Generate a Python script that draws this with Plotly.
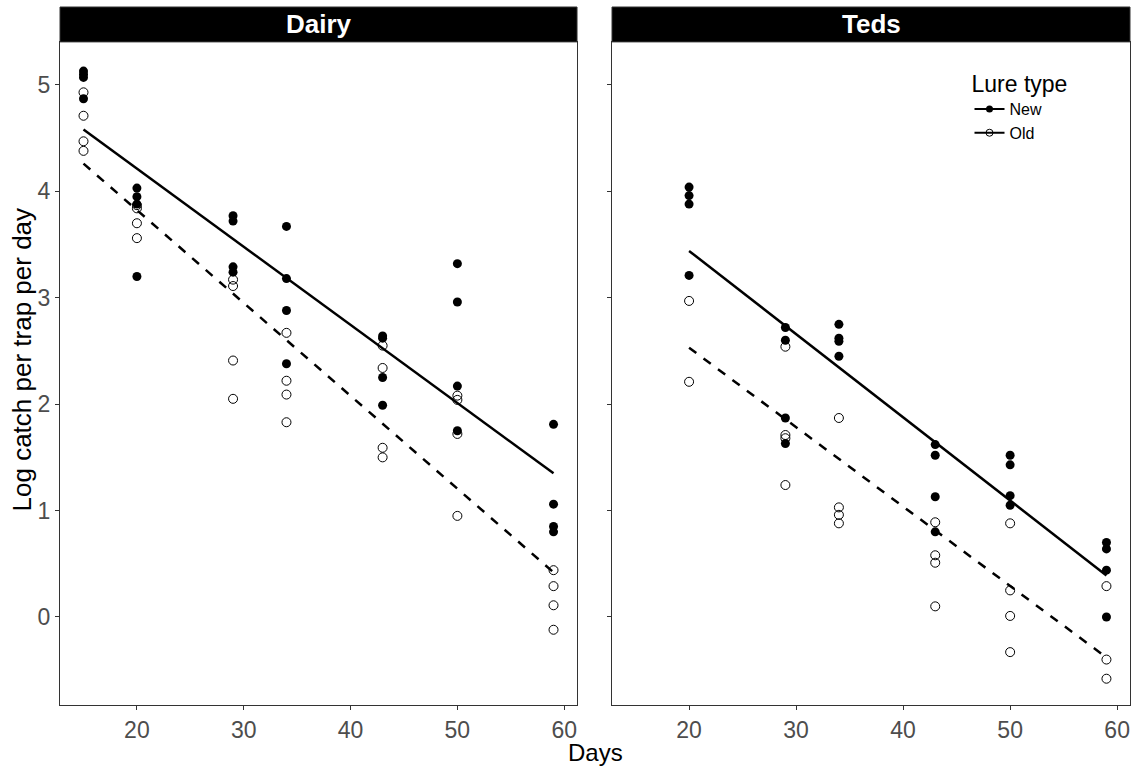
import plotly.graph_objects as go

# ---------------- data ----------------
days_dairy = [15, 20, 29, 34, 43, 50, 59]
dairy_new = [
    [5.13, 5.10, 5.07, 4.87],
    [4.03, 3.95, 3.88, 3.20],
    [3.77, 3.72, 3.29, 3.24],
    [3.67, 3.18, 2.88, 2.38],
    [2.64, 2.62, 2.25, 1.99],
    [3.32, 2.96, 2.17, 1.75],
    [1.81, 1.06, 0.85, 0.80],
]
dairy_old = [
    [4.93, 4.71, 4.47, 4.38],
    [3.87, 3.84, 3.70, 3.56],
    [3.17, 3.11, 2.41, 2.05],
    [2.67, 2.22, 2.09, 1.83],
    [2.55, 2.34, 1.59, 1.50],
    [2.08, 2.04, 1.72, 0.95],
    [0.44, 0.29, 0.11, -0.12],
]
days_teds = [20, 29, 34, 43, 50, 59]
teds_new = [
    [4.04, 3.96, 3.88, 3.21],
    [2.72, 2.60, 1.87, 1.63],
    [2.75, 2.62, 2.59, 2.45],
    [1.62, 1.52, 1.13, 0.80],
    [1.52, 1.43, 1.14, 1.05],
    [0.70, 0.64, 0.44, 0.00],
]
teds_old = [
    [2.97, 2.21],
    [2.54, 1.71, 1.68, 1.24],
    [1.87, 1.03, 0.96, 0.88],
    [0.89, 0.58, 0.51, 0.10],
    [0.88, 0.25, 0.01, -0.33],
    [0.29, -0.40, -0.58],
]
# fitted lines (endpoints)
fit_dairy_x = [15, 59]
fit_dairy_new = [4.58, 1.35]
fit_dairy_old = [4.26, 0.42]
fit_teds_x = [20, 59]
fit_teds_new = [3.44, 0.39]
fit_teds_old = [2.53, -0.38]

x_ticks = [20, 30, 40, 50, 60]
y_ticks = [0, 1, 2, 3, 4, 5]
panel_titles = ["Dairy", "Teds"]


def flatten(days, groups):
    xs, ys = [], []
    for d, g in zip(days, groups):
        for v in g:
            xs.append(d)
            ys.append(v)
    return xs, ys


FONT = "Arial, Liberation Sans, sans-serif"
fig = go.Figure()

panels = [
    ("x", "y", days_dairy, dairy_new, dairy_old, fit_dairy_x, fit_dairy_new, fit_dairy_old),
    ("x2", "y2", days_teds, teds_new, teds_old, fit_teds_x, fit_teds_new, fit_teds_old),
]
for xa, ya, days, new, old, fx, fn, fo in panels:
    xn, yn = flatten(days, new)
    xo, yo = flatten(days, old)
    fig.add_trace(go.Scatter(x=xn, y=yn, mode="markers", xaxis=xa, yaxis=ya,
                             marker=dict(symbol="circle", size=9, color="black"),
                             showlegend=False))
    fig.add_trace(go.Scatter(x=xo, y=yo, mode="markers", xaxis=xa, yaxis=ya,
                             marker=dict(symbol="circle-open", size=9, color="black",
                                         line=dict(width=1)),
                             showlegend=False))
    fig.add_trace(go.Scatter(x=fx, y=fn, mode="lines", xaxis=xa, yaxis=ya,
                             line=dict(color="black", width=2.5), showlegend=False))
    fig.add_trace(go.Scatter(x=fx, y=fo, mode="lines", xaxis=xa, yaxis=ya,
                             line=dict(color="black", width=2.5, dash="dash"),
                             showlegend=False))

# legend entries
fig.add_trace(go.Scatter(x=[None], y=[None], mode="lines+markers", name="New",
                         xaxis="x2", yaxis="y2",
                         line=dict(color="black", width=2),
                         marker=dict(symbol="circle", size=7, color="black")))
fig.add_trace(go.Scatter(x=[None], y=[None], mode="lines+markers", name="Old",
                         xaxis="x2", yaxis="y2",
                         line=dict(color="black", width=2),
                         marker=dict(symbol="circle-open", size=7, color="black")))

xr = [12.8, 61.2]
yr = [-0.827, 5.404]
ydom_top = 0.95
axis_common = dict(showgrid=False, zeroline=False, showline=True, mirror=True,
                   linecolor="#333333", linewidth=1, ticks="outside", ticklen=4,
                   tickcolor="#333333",
                   tickfont=dict(family=FONT, size=23, color="#4D4D4D"))

fig.update_layout(
    width=1134, height=770,
    margin=dict(l=60, r=4, t=7, b=65),
    plot_bgcolor="white", paper_bgcolor="white",
    font=dict(family=FONT, color="black"),
    xaxis=dict(domain=[0, 0.4832], range=xr, tickvals=x_ticks, **axis_common),
    xaxis2=dict(domain=[0.5159, 1], range=xr, tickvals=x_ticks, anchor="y2", **axis_common),
    yaxis=dict(domain=[0, ydom_top], range=yr, tickvals=y_ticks, **axis_common),
    yaxis2=dict(domain=[0, ydom_top], range=yr, tickvals=y_ticks, anchor="x2",
                showticklabels=False, **axis_common),
    legend=dict(x=0.850, y=0.921, xanchor="left", yanchor="top",
                bgcolor="rgba(0,0,0,0)",
                title=dict(text="Lure type", font=dict(size=23, family=FONT)),
                font=dict(size=16, family=FONT), itemwidth=30,
                tracegroupgap=0),
)

# strips
for dom, title in zip([[0, 0.4832], [0.5159, 1]], panel_titles):
    fig.add_shape(type="rect", xref="paper", yref="paper",
                  x0=dom[0], x1=dom[1], y0=ydom_top, y1=1.0,
                  fillcolor="black", line=dict(color="#333333", width=1), layer="above")
    fig.add_annotation(xref="paper", yref="paper", x=(dom[0] + dom[1]) / 2,
                       y=(ydom_top + 1) / 2, text="<b>" + title + "</b>", showarrow=False,
                       font=dict(family=FONT, size=26, color="white"),
                       xanchor="center", yanchor="middle")

fig.add_annotation(xref="paper", yref="paper", x=0.5, y=-0.068, text="Days",
                   showarrow=False, font=dict(family=FONT, size=24, color="black"),
                   xanchor="center", yanchor="middle")
fig.add_annotation(xref="paper", yref="paper", x=-0.0346, y=ydom_top / 2 + 0.02,
                   text="Log catch per trap per day", textangle=-90,
                   showarrow=False, font=dict(family=FONT, size=26, color="black"),
                   xanchor="center", yanchor="middle")

fig.write_html("out.html", post_script="document.body.style.margin='0';",
               config={"displayModeBar": False})
